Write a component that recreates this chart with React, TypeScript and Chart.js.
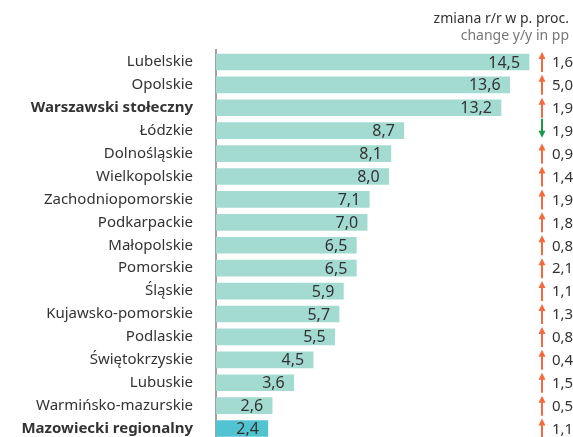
import React, { useEffect, useRef } from "react";
import { Chart, registerables } from "chart.js";

Chart.register(...registerables);

const categories = [
  "Lubelskie",
  "Opolskie",
  "Warszawski stołeczny",
  "Łódzkie",
  "Dolnośląskie",
  "Wielkopolskie",
  "Zachodniopomorskie",
  "Podkarpackie",
  "Małopolskie",
  "Pomorskie",
  "Śląskie",
  "Kujawsko-pomorskie",
  "Podlaskie",
  "Świętokrzyskie",
  "Lubuskie",
  "Warmińsko-mazurskie",
  "Mazowiecki regionalny",
];
const values = [14.5, 13.6, 13.2, 8.7, 8.1, 8.0, 7.1, 7.0, 6.5, 6.5, 5.9, 5.7, 5.5, 4.5, 3.6, 2.6, 2.4];
const changes = [1.6, 5.0, 1.9, -1.9, 0.9, 1.4, 1.9, 1.8, 0.8, 2.1, 1.1, 1.3, 0.8, 0.4, 1.5, 0.5, 1.1];
const boldRows = ["Warszawski stołeczny", "Mazowiecki regionalny"];
const highlightRows = ["Mazowiecki regionalny"];
const headerPl = "zmiana r/r w p. proc.";
const headerEn = "change y/y in pp";

const FONT = "'Noto Sans', sans-serif";
const fmt = (v: number) => Math.abs(v).toFixed(1).replace(".", ",");

const labelsPlugin = {
  id: "labelsPlugin",
  afterDatasetsDraw(chart: any) {
    const ctx = chart.ctx;
    const meta = chart.getDatasetMeta(0);
    const yScale = chart.scales.y;
    const area = chart.chartArea;
    ctx.save();
    // values inside bars
    ctx.font = `16px ${FONT}`;
    ctx.fillStyle = "#333333";
    ctx.textAlign = "right";
    ctx.textBaseline = "middle";
    meta.data.forEach((bar: any, i: number) => {
      ctx.fillText(fmt(values[i]), bar.x - 9, bar.y + 1);
    });
    // change arrows and numbers
    const ax = area.right - 27;
    const tx = area.right - 17;
    ctx.font = `15px ${FONT}`;
    ctx.textAlign = "left";
    changes.forEach((c, i) => {
      const cy = yScale.getPixelForValue(i);
      const up = c >= 0;
      const col = up ? "#f26a3d" : "#1a9a48";
      ctx.strokeStyle = col;
      ctx.fillStyle = col;
      ctx.lineWidth = 2;
      ctx.beginPath();
      if (up) {
        ctx.moveTo(ax, cy - 4);
        ctx.lineTo(ax, cy + 10);
        ctx.stroke();
        ctx.beginPath();
        ctx.moveTo(ax, cy - 10);
        ctx.lineTo(ax - 3.5, cy - 3);
        ctx.lineTo(ax + 3.5, cy - 3);
      } else {
        ctx.moveTo(ax, cy - 12);
        ctx.lineTo(ax, cy + 1);
        ctx.stroke();
        ctx.beginPath();
        ctx.moveTo(ax, cy + 7);
        ctx.lineTo(ax - 3.5, cy);
        ctx.lineTo(ax + 3.5, cy);
      }
      ctx.closePath();
      ctx.fill();
      ctx.fillStyle = "#333333";
      ctx.fillText(fmt(c), tx, cy + 1);
    });
    ctx.restore();
  },
};

export default function App() {
  const ref = useRef<HTMLCanvasElement>(null);
  useEffect(() => {
    if (!ref.current) return;
    const chart = new Chart(ref.current, {
      type: "bar",
      data: {
        labels: categories,
        datasets: [
          {
            data: values,
            backgroundColor: categories.map((c) => (highlightRows.includes(c) ? "#52c3d1" : "#a3dbd0")),
            barThickness: 16,
            borderWidth: 0,
          },
        ],
      },
      options: {
        indexAxis: "y",
        animation: false,
        responsive: false,
        maintainAspectRatio: false,
        layout: { padding: { left: 0, right: 4, top: 0, bottom: 1 } },
        plugins: {
          legend: { display: false },
          tooltip: { enabled: false },
          title: {
            display: true,
            text: headerPl,
            align: "end",
            color: "#333333",
            font: { family: FONT, size: 14, weight: "normal", lineHeight: 0.7 },
            padding: { top: 14, bottom: 0 },
          },
          subtitle: {
            display: true,
            text: headerEn,
            align: "end",
            color: "#777777",
            font: { family: FONT, size: 14, weight: "normal", lineHeight: 0.7 },
            padding: { top: 7.3, bottom: 9.6 },
          },
        },
        scales: {
          x: {
            display: false,
            min: 0,
            max: 16.35,
          },
          y: {
            afterFit: (scale: any) => {
              scale.width = 216;
              scale.paddingTop = 0;
              scale.paddingBottom = 0;
            },
            grid: { display: false, drawTicks: false },
            border: { display: true, color: "#a0a0a0", width: 2 },
            ticks: {
              padding: 23,
              color: "#333333",
              font: (c: any) => ({
                family: FONT,
                size: 15,
                lineHeight: 1.2,
                weight: boldRows.includes(categories[c.index]) ? "bold" : "normal",
              }),
            },
          },
        },
      },
      plugins: [labelsPlugin],
    });
    return () => chart.destroy();
  }, []);
  return (
    <div style={{ position: "absolute", left: 0, top: 0, width: 573, height: 441 }}>
      <canvas ref={ref} width={573} height={441} style={{ display: "block" }} />
    </div>
  );
}
